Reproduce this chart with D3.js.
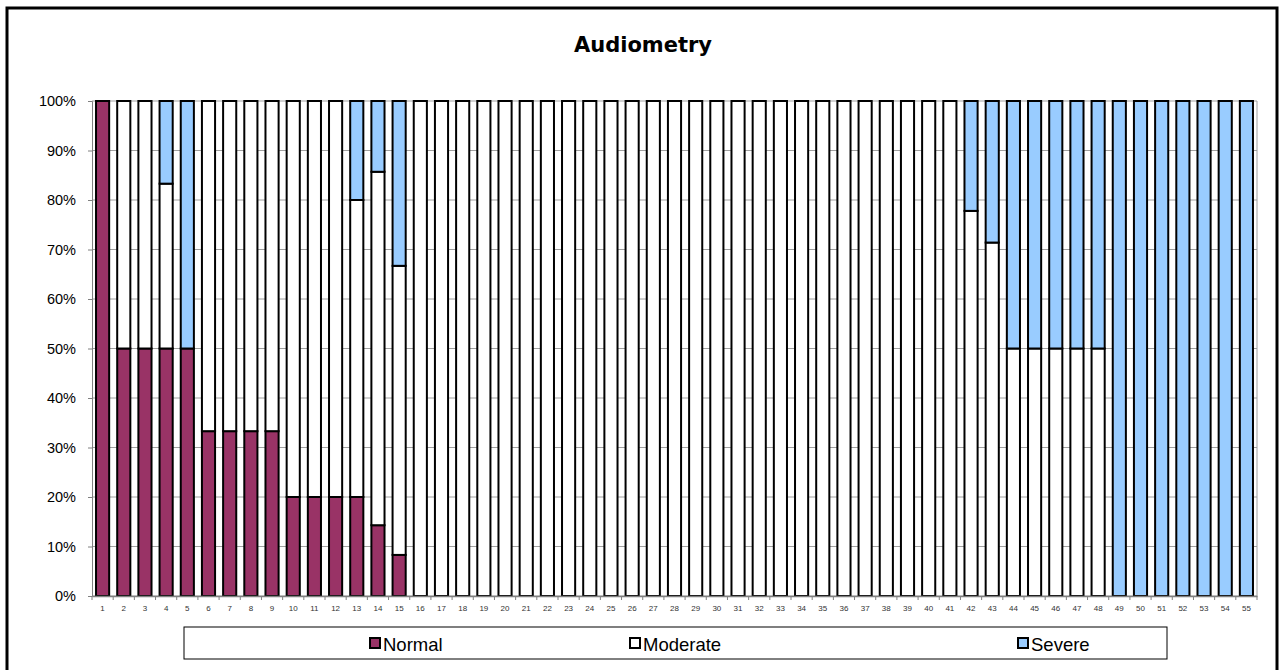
<!DOCTYPE html>
<html>
<head>
<meta charset="utf-8">
<script src="https://cdn.jsdelivr.net/npm/d3@7"></script>
<style>
  body { margin: 0; background: #fff; }
  svg { display: block; }
</style>
</head>
<body>
<script>
const width = 1283;
const height = 670;

// data (percent of each group)
const categories = d3.range(1, 56).map(String);
const normal = [100, 50, 50, 50, 50, 33.3, 33.3, 33.3, 33.3, 20, 20, 20, 20, 14.3, 8.3,
  0, 0, 0, 0, 0, 0, 0, 0, 0, 0, 0, 0, 0, 0, 0, 0, 0, 0, 0, 0, 0, 0, 0, 0, 0, 0,
  0, 0, 0, 0, 0, 0, 0, 0, 0, 0, 0, 0, 0, 0];
const moderate = [0, 50, 50, 33.3, 0, 66.7, 66.7, 66.7, 66.7, 80, 80, 80, 60, 71.4, 58.4,
  100, 100, 100, 100, 100, 100, 100, 100, 100, 100, 100, 100, 100, 100, 100, 100, 100, 100, 100, 100, 100, 100, 100, 100, 100, 100,
  77.8, 71.4, 50, 50, 50, 50, 50, 0, 0, 0, 0, 0, 0, 0];
const severe = [0, 0, 0, 16.7, 50, 0, 0, 0, 0, 0, 0, 0, 20, 14.3, 33.3,
  0, 0, 0, 0, 0, 0, 0, 0, 0, 0, 0, 0, 0, 0, 0, 0, 0, 0, 0, 0, 0, 0, 0, 0, 0, 0,
  22.2, 28.6, 50, 50, 50, 50, 50, 100, 100, 100, 100, 100, 100, 100];
const seriesNames = ["Normal", "Moderate", "Severe"];
const colors = ["#993366", "#ffffff", "#99ccff"];
const yTicks = [0, 10, 20, 30, 40, 50, 60, 70, 80, 90, 100];

const margin = { left: 92, right: 1257, top: 101, bottom: 596 };
const font = "'Liberation Sans', Arial, sans-serif";

const svg = d3.select("body").append("svg")
  .attr("width", width)
  .attr("height", height);

// outer chart border
svg.append("rect")
  .attr("x", 7).attr("y", 8)
  .attr("width", 1270).attr("height", 680)
  .attr("fill", "#fff")
  .attr("stroke", "#000")
  .attr("stroke-width", 3);

svg.append("text")
  .attr("x", 643).attr("y", 52)
  .attr("text-anchor", "middle")
  .attr("font-family", "'DejaVu Sans', sans-serif")
  .attr("font-weight", "bold")
  .attr("font-size", 21)
  .text("Audiometry");

const table = categories.map((c, i) => ({
  cat: c, Normal: normal[i], Moderate: moderate[i], Severe: severe[i]
}));
const stacked = d3.stack().keys(seriesNames)(table);

const x = d3.scaleBand()
  .domain(categories)
  .range([margin.left, margin.right])
  .paddingInner(0.38)
  .paddingOuter(0.19);

const y = d3.scaleLinear()
  .domain([0, 100])
  .range([margin.bottom, margin.top]);

// gridlines
svg.append("g")
  .selectAll("line")
  .data(yTicks)
  .join("line")
  .attr("x1", margin.left).attr("x2", margin.right)
  .attr("y1", d => y(d)).attr("y2", d => y(d))
  .attr("stroke", "#a0a0a0")
  .attr("stroke-width", 1);

svg.append("line")
  .attr("x1", margin.right).attr("x2", margin.right)
  .attr("y1", margin.top).attr("y2", margin.bottom)
  .attr("stroke", "#a0a0a0");

// bars
svg.append("g")
  .selectAll("g")
  .data(stacked)
  .join("g")
  .attr("fill", (d, i) => colors[i])
  .selectAll("rect")
  .data(d => d.filter(s => s[1] - s[0] > 0))
  .join("rect")
  .attr("x", d => x(d.data.cat))
  .attr("width", x.bandwidth())
  .attr("y", d => y(d[1]))
  .attr("height", d => y(d[0]) - y(d[1]))
  .attr("stroke", "#000")
  .attr("stroke-width", 2);

// y axis
const yAxis = d3.axisLeft(y)
  .tickValues(yTicks)
  .tickFormat(d => d + "%")
  .tickSize(4)
  .tickPadding(12);
const yg = svg.append("g")
  .attr("transform", `translate(${margin.left},0)`)
  .call(yAxis);
yg.select(".domain").attr("stroke", "#808080");
yg.selectAll(".tick line").attr("stroke", "#808080");
yg.selectAll("text")
  .attr("font-family", font)
  .attr("font-size", 14.5)
  .attr("fill", "#000");

// x axis
const xAxis = d3.axisBottom(x).tickSize(0).tickPadding(9);
const xg = svg.append("g")
  .attr("transform", `translate(0,${margin.bottom})`)
  .call(xAxis);
xg.select(".domain").attr("stroke", "#808080").attr("stroke-width", 1.5);
xg.selectAll("text")
  .attr("font-family", font)
  .attr("font-size", 8)
  .attr("fill", "#333");
// category boundary ticks
const step = x.step();
xg.append("g")
  .selectAll("line")
  .data(d3.range(categories.length + 1))
  .join("line")
  .attr("x1", i => margin.left + i * step)
  .attr("x2", i => margin.left + i * step)
  .attr("y1", 0).attr("y2", 4)
  .attr("stroke", "#808080");

// legend
const legend = svg.append("g");
legend.append("rect")
  .attr("x", 184).attr("y", 627)
  .attr("width", 983).attr("height", 32)
  .attr("fill", "#fff")
  .attr("stroke", "#000")
  .attr("stroke-width", 1);
const legendX = [370, 630, 1018];
const items = legend.selectAll("g.item")
  .data(seriesNames)
  .join("g")
  .attr("class", "item")
  .attr("transform", (d, i) => `translate(${legendX[i]},638)`);
items.append("rect")
  .attr("width", 10).attr("height", 10)
  .attr("fill", (d, i) => colors[i])
  .attr("stroke", "#000")
  .attr("stroke-width", 2);
items.append("text")
  .attr("x", 13).attr("y", 13)
  .attr("font-family", font)
  .attr("font-size", 18.5)
  .text(d => d);
</script>
</body>
</html>
